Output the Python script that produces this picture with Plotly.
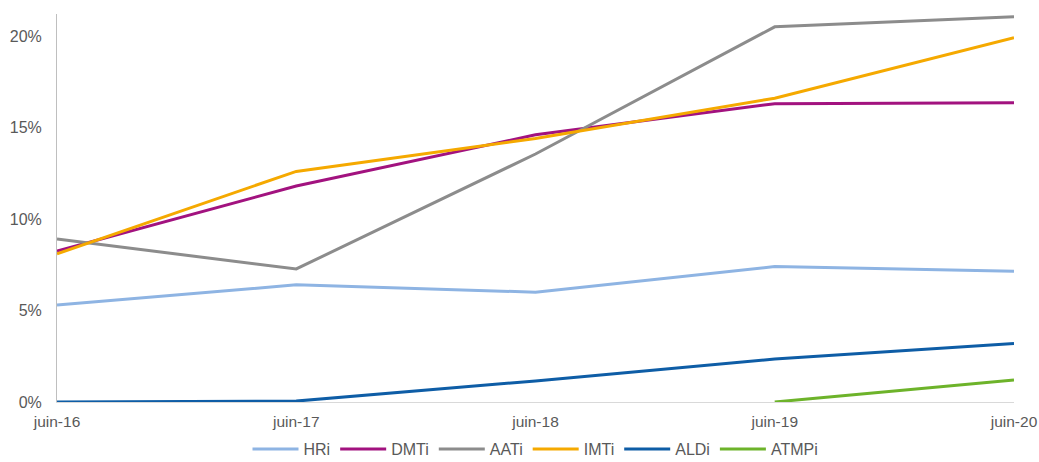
import plotly.graph_objects as go

periods = ["juin-16", "juin-17", "juin-18", "juin-19", "juin-20"]
hri = [5.3, 6.4, 6.0, 7.4, 7.15]
dmti = [8.25, 11.8, 14.6, 16.3, 16.35]
aati = [8.9, 7.27, 13.55, 20.5, 21.05]
imti = [8.1, 12.6, 14.4, 16.6, 19.9]
aldi = [0.0, 0.05, 1.15, 2.35, 3.2]
atmpi = [None, None, None, 0.0, 1.2]

series = [
    ("HRi", hri, "#8EB4E3"),
    ("DMTi", dmti, "#A2127F"),
    ("AATi", aati, "#8C8C8C"),
    ("IMTi", imti, "#F5A900"),
    ("ALDi", aldi, "#0E5DA6"),
    ("ATMPi", atmpi, "#6DB32A"),
]

fig = go.Figure()
for name, vals, color in series:
    fig.add_trace(go.Scatter(
        x=list(range(len(periods))), y=[None if v is None else v / 100 for v in vals],
        mode="lines", name=name, line=dict(color=color, width=3),
        connectgaps=False,
    ))

fig.update_layout(
    width=1039, height=462,
    margin=dict(l=57, r=25, t=14, b=60),
    paper_bgcolor="white", plot_bgcolor="white",
    font=dict(family="Liberation Sans, Arial, sans-serif", size=16, color="#595959"),
    showlegend=True,
    legend=dict(orientation="h", x=0.5, xanchor="center", xref="paper",
                y=0.028, yanchor="middle", yref="container",
                font=dict(size=16, color="#595959"), itemwidth=46),
)
fig.update_xaxes(
    tickmode="array", tickvals=list(range(len(periods))), ticktext=periods,
    range=[0, 4], showgrid=False, zeroline=False, automargin=False,
    showline=True, linecolor="#D9D9D9", linewidth=1, ticks="", ticklabelstandoff=5,
    tickfont=dict(size=15.5),
)
fig.update_yaxes(
    range=[0, 0.212], tickvals=[0, 0.05, 0.10, 0.15, 0.20], tickformat=".0%",
    showgrid=False, zeroline=False, showline=True, linecolor="#BFBFBF", linewidth=1,
    ticks="", ticklabelstandoff=11, automargin=False,
)

fig.write_html("out.html", config={"displayModeBar": False},
               post_script="document.body.style.margin='0';document.body.style.overflow='hidden';")
